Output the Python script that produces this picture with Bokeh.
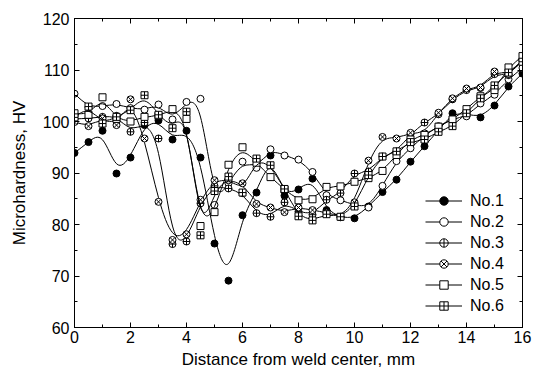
from bokeh.plotting import figure
from bokeh.models import (Range1d, LinearAxis, SingleIntervalTicker, Legend,
                          LegendItem, ColumnDataSource)
from bokeh.embed import file_html
from bokeh.resources import INLINE

# ---------------- data ----------------
distance = [0, 0.5, 1, 1.5, 2, 2.5, 3, 3.5, 4, 4.5, 5, 5.5, 6, 6.5, 7, 7.5, 8,
            8.5, 9, 9.5, 10, 10.5, 11, 11.5, 12, 12.5, 13, 13.5, 14, 14.5, 15,
            15.5, 16]

no1 = [93.9, 96.0, 98.2, 89.9, 93.0, 99.3, 100.2, 96.5, 98.2, 93.0, 76.3, 69.1,
       81.8, 86.2, 93.4, 85.6, 86.8, 88.9, 82.8, 81.4, 81.2, 83.5, 86.3, 88.7,
       92.2, 95.2, 98.3, 101.6, 101.5, 100.8, 103.1, 106.8, 109.3]
no2 = [105.4, 102.8, 103.0, 103.4, 102.6, 102.3, 103.3, 100.4, 103.8, 104.4,
       83.8, 88.0, 92.2, 91.0, 94.6, 93.4, 92.6, 90.2, 85.7, 84.7, 83.8, 83.3,
       87.5, 92.3, 94.8, 97.3, 99.1, 100.5, 101.0, 103.5, 105.2, 108.2, 110.4]
no3 = [100.5, 100.6, 100.9, 101.1, 98.0, 99.8, 96.7, 76.2, 76.7, 84.1, 87.5,
       87.0, 86.1, 82.2, 81.5, 84.3, 82.5, 81.9, 84.8, 86.1, 89.9, 90.3, 93.2,
       94.2, 97.5, 99.8, 101.4, 104.3, 106.1, 106.5, 109.2, 109.0, 111.8]
no4 = [99.9, 99.1, 100.6, 99.3, 104.3, 96.7, 84.4, 77.0, 78.1, 84.8, 88.6,
       88.6, 88.0, 84.0, 83.3, 82.4, 83.3, 82.8, 82.3, 81.5, 84.3, 92.4, 97.0,
       96.7, 97.8, 97.7, 101.7, 104.5, 106.4, 106.6, 109.7, 109.2, 112.0]
no5 = [101.6, 101.3, 104.7, 100.5, 100.0, 100.9, 101.1, 102.4, 100.5, 79.7,
       82.4, 91.6, 95.0, 92.0, 89.2, 86.8, 84.7, 84.9, 87.3, 87.4, 88.3, 89.0,
       90.4, 93.5, 96.5, 97.4, 99.0, 100.4, 102.4, 104.9, 106.1, 110.5, 112.7]
no6 = [100.8, 102.9, 99.6, 100.9, 102.2, 105.1, 101.3, 98.7, 101.9, 77.9, 86.5,
       89.3, 86.2, 92.8, 91.5, 86.9, 81.6, 80.8, 82.0, 81.5, 83.5, 89.6, 93.2,
       94.2, 96.0, 96.5, 98.0, 99.1, 101.6, 104.5, 107.0, 109.5, 111.6]

labels = ["No.1", "No.2", "No.3", "No.4", "No.5", "No.6"]
x_ticks_interval = 2
y_ticks_interval = 10

FONT = "Liberation Sans"


def bspline_segments(xs, ys):
    """Uniform cubic B-spline (clamped ends) with the data as control
    points, expressed as Bezier segments for Bokeh's bezier glyph."""
    px = [xs[0], xs[0]] + list(xs) + [xs[-1], xs[-1]]
    py = [ys[0], ys[0]] + list(ys) + [ys[-1], ys[-1]]
    d = dict(x0=[], y0=[], x1=[], y1=[], cx0=[], cy0=[], cx1=[], cy1=[])
    for i in range(len(px) - 3):
        for P, a, b, c0, c1 in ((px, "x0", "x1", "cx0", "cx1"),
                                (py, "y0", "y1", "cy0", "cy1")):
            p0, p1, p2, p3 = P[i], P[i + 1], P[i + 2], P[i + 3]
            d[a].append((p0 + 4 * p1 + p2) / 6.0)
            d[c0].append((2 * p1 + p2) / 3.0)
            d[c1].append((p1 + 2 * p2) / 3.0)
            d[b].append((p1 + 4 * p2 + p3) / 6.0)
    return d


p = figure(width=533, height=373,
           min_border_left=74, min_border_right=11,
           min_border_top=18, min_border_bottom=46,
           x_range=Range1d(0, 16), y_range=Range1d(60, 120),
           output_backend="svg", toolbar_location=None,
           x_axis_label="Distance from weld center, mm",
           y_axis_label="Microhardness, HV")
p.xgrid.visible = False
p.ygrid.visible = False
p.outline_line_color = "black"
p.outline_line_width = 1
p.background_fill_color = "white"
p.border_fill_color = "white"

bottom = p.below[0]
left = p.left[0]

xt = SingleIntervalTicker(interval=x_ticks_interval, num_minor_ticks=2)
yt = SingleIntervalTicker(interval=y_ticks_interval, num_minor_ticks=2)
bottom.ticker = xt
left.ticker = yt

top = LinearAxis(ticker=xt)
right = LinearAxis(ticker=yt)
p.add_layout(top, "above")
p.add_layout(right, "right")

for ax in [bottom, left, top, right]:
    ax.axis_line_color = "black"
    ax.axis_line_width = 1
    ax.major_tick_in = 5
    ax.major_tick_out = 0
    ax.minor_tick_in = 3
    ax.minor_tick_out = 0
    ax.major_tick_line_color = "black"
    ax.minor_tick_line_color = "black"
    ax.major_label_text_font = FONT
    ax.major_label_text_font_size = "16px"
    ax.major_label_text_color = "black"
    ax.axis_label_text_font = FONT
    ax.axis_label_text_font_size = "17px"
    ax.axis_label_text_font_style = "normal"
    ax.axis_label_text_color = "black"

for ax in [top, right]:
    ax.major_label_text_font_size = "1px"
    ax.major_label_text_color = None
    ax.major_label_standoff = 0
    ax.axis_label = None

bottom.major_label_standoff = 3
bottom.axis_label_standoff = 4
left.major_label_standoff = 5
left.axis_label_standoff = 11

series = [
    (no1, "circle", "black"),
    (no2, "circle", "white"),
    (no3, "circle_cross", "white"),
    (no4, "circle_x", "white"),
    (no5, "square", "white"),
    (no6, "square_cross", "white"),
]

items = []
for lab, (vals, marker, fill) in zip(labels, series):
    seg = ColumnDataSource(bspline_segments(distance, vals))
    p.bezier(x0="x0", y0="y0", x1="x1", y1="y1", cx0="cx0", cy0="cy0",
             cx1="cx1", cy1="cy1", source=seg, line_color="black",
             line_width=1)
    # line used only for the legend sample (kept outside the visible range)
    leg_line = p.line(x=[-20, -19], y=[0, 0], line_color="black",
                      line_width=1)
    sc = p.scatter(x=distance, y=vals, marker=marker, size=7,
                   fill_color=fill, line_color="black", line_width=1)
    items.append(LegendItem(label=lab, renderers=[leg_line, sc]))

legend = Legend(items=items, location=(351, 11), padding=0, margin=0,
                spacing=0, glyph_width=37, glyph_height=21, label_height=21,
                label_standoff=8, border_line_color=None,
                background_fill_alpha=0, label_text_font=FONT,
                label_text_font_size="16px", label_text_color="black")
p.add_layout(legend, "center")

open("out.html", "w").write(file_html(p, INLINE))
